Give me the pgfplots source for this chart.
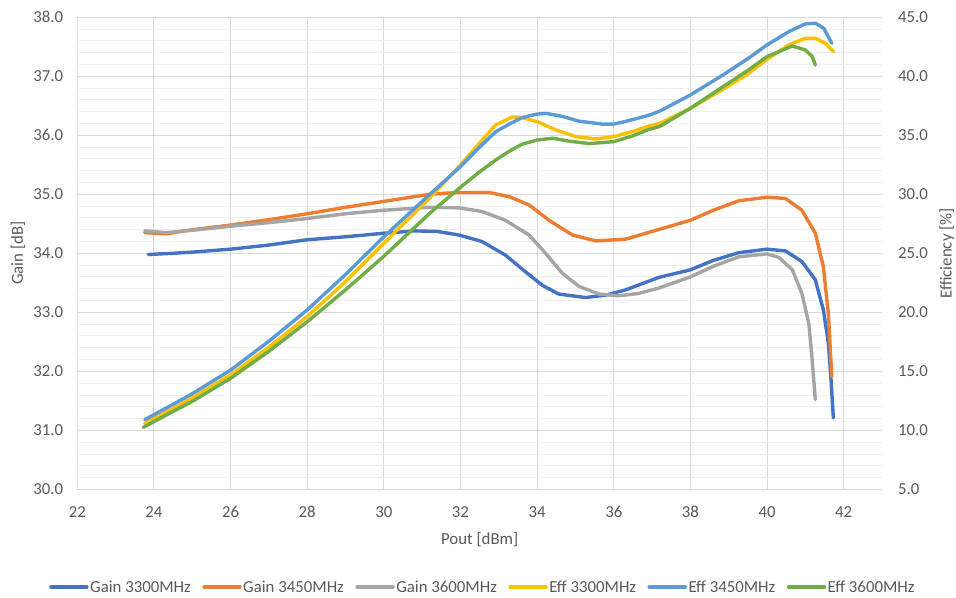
\documentclass[border=0pt]{standalone}
\usepackage{pgfplots}
\pgfplotsset{compat=1.18}
\usepackage{fontspec}
\setmainfont{Carlito}
\definecolor{cG1}{HTML}{4472C4}
\definecolor{cG2}{HTML}{ED7D31}
\definecolor{cG3}{HTML}{A5A5A5}
\definecolor{cE1}{HTML}{FFC000}
\definecolor{cE2}{HTML}{5B9BD5}
\definecolor{cE3}{HTML}{70AD47}
\definecolor{txt}{HTML}{595959}
\definecolor{gridmaj}{HTML}{D9D9D9}
\definecolor{gridmin}{HTML}{EFEFEF}
\newcommand{\fs}{\fontsize{16.8bp}{20bp}\selectfont}
\pgfplotsset{
  common/.style={
    scale only axis, width=804.7bp, height=472bp,
    xmin=22, xmax=43,
    axis line style={draw=none},
    major tick length=0pt, minor tick length=0pt,
    tick label style={font=\fs, text=txt},
    /pgf/number format/assume math mode=true,
  },
  ln/.style={line width=3.4bp, line join=round, line cap=round},
}
\begin{document}
\begin{tikzpicture}
\useasboundingbox (-77.3bp,-108.7bp) rectangle (878.7bp,489.3bp);
\begin{axis}[common,
  ymin=30, ymax=38,
  xtick={22,24,...,42}, ytick={30,31,...,38},
  minor y tick num=4,
  grid=both,
  major grid style={draw=gridmaj, line width=1bp},
  minor grid style={draw=gridmin, line width=0.8bp},
  yticklabel style={anchor=east, inner sep=0pt, xshift=-14bp,
    /pgf/number format/.cd, fixed, fixed zerofill, precision=1},
  xticklabel style={anchor=north, inner sep=0pt, yshift=-17bp},
  xlabel={Pout [dBm]}, ylabel={Gain [dB]},
  every axis x label/.style={at={(axis description cs:0.5,0)}, anchor=base, yshift=-55.5bp, font=\fs, text=txt},
  every axis y label/.style={at={(axis description cs:0,0.5)}, xshift=-54.3bp, rotate=90, anchor=base, font=\fs, text=txt},
]
\addplot[ln, cG1] coordinates {
(23.85,33.98)(24.5,34.00)(25.0,34.02)(26.0,34.07)(27.0,34.14)(28.0,34.23)(29.0,34.28)(30.0,34.34)(30.8,34.38)(31.4,34.37)(31.96,34.31)(32.56,34.20)(33.17,33.97)(33.69,33.69)(34.13,33.46)(34.56,33.31)(35.26,33.25)(35.78,33.29)(36.31,33.38)(37.17,33.59)(38.0,33.72)(38.6,33.88)(39.26,34.01)(40.0,34.07)(40.48,34.04)(40.91,33.86)(41.26,33.55)(41.47,33.04)(41.6,32.48)(41.67,31.86)(41.73,31.21)};
\addplot[ln, cG2] coordinates {
(23.76,34.35)(24.32,34.33)(25.0,34.40)(26.02,34.48)(27.0,34.57)(28.0,34.67)(29.0,34.78)(30.0,34.88)(31.19,35.00)(31.9,35.03)(32.75,35.03)(33.27,34.96)(33.79,34.82)(34.31,34.56)(34.92,34.31)(35.53,34.21)(36.31,34.24)(37.0,34.37)(38.0,34.56)(38.6,34.73)(39.26,34.89)(40.0,34.95)(40.48,34.93)(40.91,34.73)(41.26,34.34)(41.47,33.77)(41.6,32.98)(41.69,31.91)};
\addplot[ln, cG3] coordinates {
(23.76,34.38)(24.32,34.35)(25.0,34.39)(26.02,34.46)(27.0,34.52)(28.0,34.59)(29.0,34.67)(30.0,34.73)(31.19,34.78)(31.96,34.77)(32.56,34.71)(33.17,34.56)(33.79,34.31)(34.22,34.00)(34.66,33.66)(35.09,33.44)(35.61,33.31)(36.13,33.28)(36.65,33.32)(37.17,33.41)(38.0,33.60)(38.6,33.78)(39.26,33.94)(40.0,33.99)(40.31,33.93)(40.66,33.72)(40.91,33.32)(41.09,32.81)(41.17,32.25)(41.26,31.52)};
\end{axis}
\begin{axis}[common,
  ymin=5, ymax=45, ytick={5,10,...,45},
  axis x line=none, axis y line*=right,
  yticklabel style={anchor=west, inner sep=0pt, xshift=16bp,
    /pgf/number format/.cd, fixed, fixed zerofill, precision=1},
  ylabel={Efficiency [\%]},
  every axis y label/.style={at={(axis description cs:1,0.5)}, xshift=69.7bp, rotate=90, anchor=base, font=\fs, text=txt},
  legend columns=6,
  legend style={at={(0.5,-0.207)}, anchor=center, xshift=3bp, draw=none, fill=none,
    font=\fs, text=txt, inner sep=0pt,
    nodes={inner sep=1.5bp},
    /tikz/every even column/.append style={column sep=10bp}},
  legend image code/.code={\draw[#1] (0bp,0bp) -- (36bp,0bp);},
]
\addlegendimage{ln, cG1}\addlegendentry{Gain 3300MHz}
\addlegendimage{ln, cG2}\addlegendentry{Gain 3450MHz}
\addlegendimage{ln, cG3}\addlegendentry{Gain 3600MHz}
\addplot[ln, cE1] coordinates {
(23.76,10.6)(24.5,11.85)(25.0,12.75)(26.0,14.7)(27.0,17.05)(28.0,19.63)(29.0,22.6)(30.0,25.85)(31.2,29.7)(32.0,32.49)(32.5,34.35)(32.92,35.88)(33.35,36.55)(33.57,36.53)(34.0,36.16)(34.49,35.45)(35.01,34.89)(35.53,34.69)(36.0,34.89)(36.49,35.31)(36.92,35.79)(37.2,36.02)(38.0,37.29)(38.85,38.9)(39.5,40.2)(40.0,41.44)(40.57,42.66)(41.0,43.22)(41.26,43.22)(41.52,42.8)(41.74,42.09)};
\addlegendentry{Eff 3300MHz}
\addplot[ln, cE2] coordinates {
(23.76,10.9)(24.5,12.2)(25.0,13.1)(26.0,15.1)(27.0,17.55)(28.0,20.2)(29.0,23.2)(30.0,26.4)(31.2,30.0)(32.0,32.35)(32.5,34.0)(32.92,35.3)(33.3,36.0)(33.61,36.5)(34.0,36.8)(34.25,36.85)(34.66,36.6)(35.09,36.2)(35.7,35.95)(36.0,35.95)(36.4,36.25)(36.92,36.7)(37.2,37.05)(38.0,38.42)(38.85,40.11)(39.5,41.5)(40.0,42.66)(40.57,43.79)(41.0,44.44)(41.26,44.5)(41.48,44.07)(41.69,42.8)};
\addlegendentry{Eff 3450MHz}
\addplot[ln, cE3] coordinates {
(23.72,10.25)(24.5,11.6)(25.0,12.45)(26.0,14.4)(27.0,16.7)(28.0,19.2)(29.0,21.9)(30.0,24.75)(31.2,28.4)(32.0,30.6)(32.5,31.9)(32.92,32.91)(33.3,33.7)(33.61,34.25)(34.0,34.6)(34.4,34.75)(34.84,34.5)(35.36,34.3)(36.0,34.46)(36.49,34.95)(36.92,35.5)(37.2,35.75)(38.0,37.29)(38.85,39.12)(39.5,40.5)(40.0,41.67)(40.66,42.57)(41.0,42.23)(41.18,41.67)(41.26,40.96)};
\addlegendentry{Eff 3600MHz}
\end{axis}
\end{tikzpicture}
\end{document}
